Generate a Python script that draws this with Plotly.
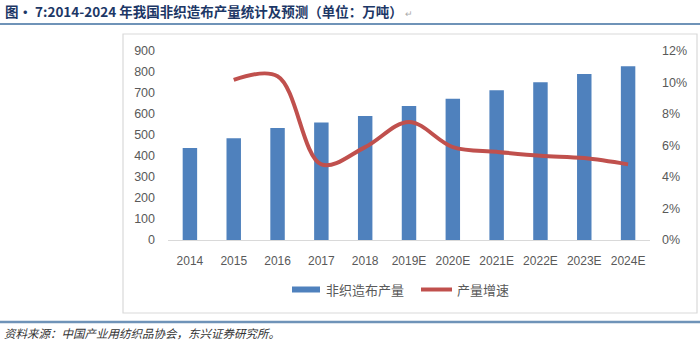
import plotly.graph_objects as go

years = ["2014", "2015", "2016", "2017", "2018", "2019E", "2020E", "2021E", "2022E", "2023E", "2024E"]
output = [438, 484, 533, 560, 590, 638, 673, 713, 751, 790, 827]
growth_years = ["2015", "2016", "2017", "2018", "2019E", "2020E", "2021E", "2022E", "2023E", "2024E"]
growth = [0.1016, 0.104, 0.048, 0.059, 0.075, 0.059, 0.056, 0.0535, 0.052, 0.048]
left_ticks = [0, 100, 200, 300, 400, 500, 600, 700, 800, 900]
right_ticks = [0, 0.02, 0.04, 0.06, 0.08, 0.10, 0.12]

BAR = "#4f81bd"
LINE = "#c0504d"
GREY = "#595959"
FONT = "Liberation Sans, Arial, sans-serif"
CJK = "Noto Sans CJK SC, sans-serif"

W, H = 700, 349
L, R, T, B = 168, 650, 51, 240

def px(x):
    return (x - L) / (R - L)

def py(y):
    return (B - y) / (B - T)

fig = go.Figure()
fig.add_trace(go.Bar(x=years, y=output, name="非织造布产量", marker_color=BAR,
                     marker_line_width=0, width=0.33, showlegend=False))
fig.add_trace(go.Scatter(x=growth_years, y=growth, name="产量增速", yaxis="y2", mode="lines",
                         line=dict(color=LINE, width=4, shape="spline", smoothing=1.0),
                         showlegend=False))

fig.update_layout(
    width=W, height=H,
    margin=dict(l=L, r=W - R, t=T, b=H - B),
    paper_bgcolor="white", plot_bgcolor="white",
    font=dict(family=FONT, color=GREY, size=12),
    bargap=0.67,
    xaxis=dict(categoryorder="array", categoryarray=years, showgrid=False,
               showline=True, linecolor="#d9d9d9", linewidth=1, ticks="",
               tickfont=dict(size=12, color=GREY, family=FONT), ticklabelstandoff=10),
    yaxis=dict(range=[0, 900], tickvals=left_ticks, showgrid=False, zeroline=False,
               showline=False, ticks="", tickfont=dict(size=12.5, color=GREY, family=FONT),
               ticklabelstandoff=12),
    yaxis2=dict(range=[0, 0.12], tickvals=right_ticks, tickformat=".0%", overlaying="y",
                side="right", showgrid=False, zeroline=False, showline=False, ticks="",
                tickfont=dict(size=12.5, color=GREY, family=FONT), ticklabelstandoff=11),
)

shapes = []
# chart border
shapes.append(dict(type="rect", xref="paper", yref="paper", x0=px(123), x1=px(697),
                   y0=py(313), y1=py(34), line=dict(color="#d9d9d9", width=1.2),
                   fillcolor="rgba(0,0,0,0)", layer="below"))
# title rule and source rule
shapes.append(dict(type="line", xref="paper", yref="paper", x0=px(0), x1=px(700),
                   y0=py(24), y1=py(24), line=dict(color="#6f93b8", width=2)))
shapes.append(dict(type="line", xref="paper", yref="paper", x0=px(0), x1=px(700),
                   y0=py(322), y1=py(322), line=dict(color="#6f93b8", width=2.5)))
# legend swatches
shapes.append(dict(type="rect", xref="paper", yref="paper", x0=px(292), x1=px(320),
                   y0=py(292.5), y1=py(286.5), fillcolor=BAR, line=dict(width=0)))
shapes.append(dict(type="line", xref="paper", yref="paper", x0=px(421), x1=px(452),
                   y0=py(289.5), y1=py(289.5), line=dict(color=LINE, width=4)))
fig.update_layout(shapes=shapes)

ann = []
ann.append(dict(xref="paper", yref="paper", x=px(3), y=py(11), xanchor="left", yanchor="middle",
                showarrow=False,
                text="<b>图· 7:2014-2024 年我国非织造布产量统计及预测（单位：万吨）</b><span style='color:#aaaaaa;font-size:9px'> ↵</span>",
                font=dict(family=CJK, size=13.5, color="#1c3766")))
ann.append(dict(xref="paper", yref="paper", x=px(2), y=py(333), xanchor="left", yanchor="middle",
                showarrow=False,
                text="资料来源：中国产业用纺织品协会，东兴证券研究所。",
                font=dict(family=CJK, size=11.5, color="#333333", style="italic")))
ann.append(dict(xref="paper", yref="paper", x=px(324), y=py(289), xanchor="left", yanchor="middle",
                showarrow=False, text="非织造布产量", font=dict(family=CJK, size=13, color=GREY)))
ann.append(dict(xref="paper", yref="paper", x=px(455), y=py(289), xanchor="left", yanchor="middle",
                showarrow=False, text="产量增速", font=dict(family=CJK, size=13, color=GREY)))
fig.update_layout(annotations=ann)

fig.write_html("out.html")
